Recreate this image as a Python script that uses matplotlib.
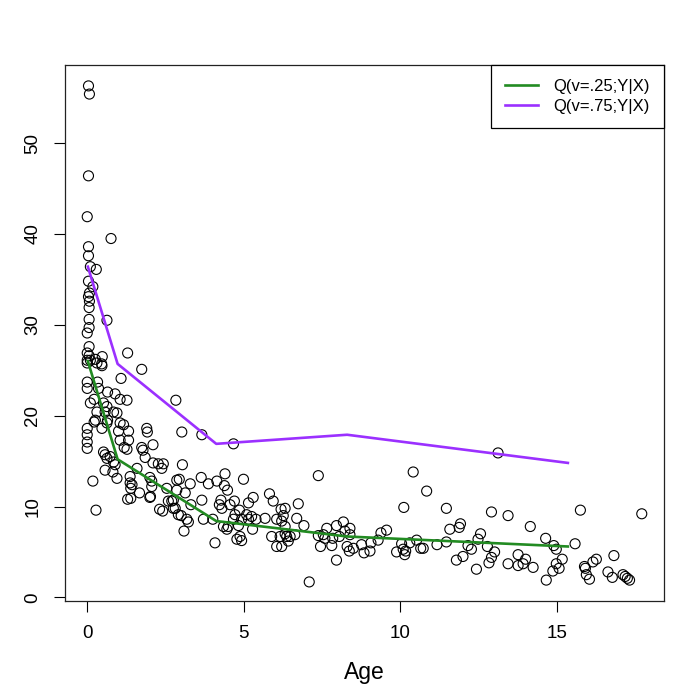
import numpy as np
import matplotlib
matplotlib.use("Agg")
import matplotlib.pyplot as plt

plt.rcParams['font.family'] = ['Liberation Sans', 'DejaVu Sans']

age = [0.04, 0.07, 0.04, 0.0, 0.04, 0.04, 0.1, 0.29, 0.04, 0.18, 0.07, 0.04, 0.07, 0.06,
       0.06, 0.06, 0.0, 0.63, 0.76, 0.06, 0.0, 0.06, 0.0, 0.1, 0.26, 0.48, 0.46, 1.29, 1.74,
       0.0, 0.31, 0.47, 1.08, 0.0, 0.0, 0.33, 0.36, 0.65, 0.89, 1.05, 1.27, 0.22, 0.1, 0.52,
       0.63, 0.31, 0.57, 0.84, 0.95, 0.26, 0.22, 0.65, 0.47, 0.63, 1.05, 1.16, 1.32, 0.0, 0.0,
       0.0, 0.0, 1.0, 1.05, 1.32, 1.18, 1.27, 1.9, 1.92, 2.1, 1.74, 1.78, 0.52, 0.57, 0.63,
       0.73, 0.84, 0.89, 1.85, 2.1, 2.27, 2.38, 2.43, 1.59, 0.57, 0.82, 0.95, 0.18, 1.37,
       1.43, 2.0, 2.06, 2.86, 1.37, 1.39, 1.67, 2.0, 2.02, 2.06, 1.29, 1.39, 2.54, 2.59, 2.31,
       2.41, 2.75, 2.81, 0.28, 2.91,
       2.83, 3.02, 3.66, 4.67, 3.04, 2.94, 2.86, 3.13, 3.29, 3.64, 3.87, 4.14, 4.4, 4.38, 4.48,
       4.99, 2.7, 2.75, 3.0, 3.18, 3.23, 3.09, 3.31, 3.66, 3.71, 4.01, 4.22, 4.27, 4.3, 4.56,
       4.7, 4.86, 4.72, 4.67, 4.35, 4.46, 4.5, 4.08, 4.78, 4.88, 4.93, 4.83, 4.93, 5.09, 5.15,
       5.25, 5.28, 5.3, 5.15, 5.39, 5.68, 5.82, 5.94, 6.05, 6.19, 6.32, 6.26, 6.32, 6.21, 5.89,
       6.16, 6.32, 6.37, 6.05, 6.21, 6.42, 6.63, 6.74, 6.69,
       13.12, 7.38, 10.41, 10.84, 10.11, 11.47, 12.91, 13.44, 15.75, 17.71, 14.15, 6.92,
       6.48, 7.09, 7.38, 7.45, 7.54, 7.65, 7.59, 7.81, 7.84, 7.96, 7.96, 8.05, 8.18, 8.23,
       8.39, 8.3, 8.37, 8.5, 8.39, 8.76, 8.84, 9.03, 9.06, 9.29, 9.38, 9.56, 9.88, 10.04,
       10.09, 10.14, 10.17, 10.3, 10.52, 10.65, 10.73, 11.17, 11.47, 11.58, 11.88, 11.92,
       11.79, 12.0, 12.16, 12.27, 12.43, 12.48, 12.56, 12.78, 12.83, 12.91, 13.01, 13.44,
       13.76, 13.76, 13.92, 14.0, 14.24, 14.64, 14.66, 14.9, 14.98, 14.87, 14.98, 15.07,
       15.17, 15.58, 15.88, 15.91, 15.94, 16.04, 16.15, 16.26, 16.82, 16.63, 16.77, 17.11,
       17.18, 17.25, 17.32]
value = [56.3, 55.4, 46.4, 41.9, 38.6, 37.6, 36.4, 36.1, 34.8, 34.2, 33.5, 33.1, 32.6, 31.9,
         30.6, 29.7, 29.1, 30.5, 39.5, 27.6, 26.9, 26.6, 26.1, 26.1, 26.2, 26.5, 25.7, 26.9, 25.1,
         25.8, 25.8, 25.5, 24.1, 23.7, 23.0, 23.7, 23.0, 22.6, 22.4, 21.8, 21.7, 21.8, 21.4, 21.4,
         21.0, 20.4, 20.4, 20.4, 20.3, 19.5, 19.3, 19.5, 18.6, 19.2, 19.2, 19.0, 18.3, 18.6, 17.9,
         17.1, 16.4, 18.3, 17.3, 17.3, 16.5, 16.3, 18.6, 18.2, 16.8, 16.5, 16.2, 16.0, 15.7, 15.3,
         15.5, 14.9, 14.6, 15.4, 14.8, 14.7, 14.2, 14.7, 14.2, 14.0, 13.8, 13.1, 12.8, 13.3,
         12.4, 13.2, 12.8, 12.9, 12.6, 12.0, 11.5, 11.0, 11.1, 12.2, 10.8, 10.9, 12.0, 10.6, 9.7,
         9.5, 10.7, 9.8, 9.6, 9.1,
         21.7, 18.2, 17.9, 16.9, 14.6, 13.0, 11.8, 11.5, 12.5, 13.2, 12.5, 12.8, 13.6, 12.3, 11.8,
         13.0, 10.6, 9.8, 9.0, 8.6, 8.3, 7.3, 10.2, 10.7, 8.6, 8.6, 10.2, 10.7, 9.8, 10.2,
         10.6, 9.6, 9.1, 8.6, 7.8, 7.5, 7.8, 6.0, 6.4, 6.7, 6.25, 7.9, 8.6, 9.1, 8.6,
         8.9, 7.5, 11.0, 10.4, 8.6, 8.7, 11.4, 10.6, 8.6, 9.7, 9.8, 9.0, 7.8, 8.4, 6.7,
         6.7, 7.0, 6.7, 5.6, 5.6, 6.2, 6.9, 10.3, 8.7,
         15.9, 13.4, 13.8, 11.7, 9.9, 9.8, 9.4, 9.0, 9.6, 9.2, 7.8, 7.9,
         6.7, 1.7, 6.8, 5.6, 6.9, 7.6, 6.5, 5.7, 6.5, 7.9, 4.1, 6.7, 8.3, 7.3,
         7.6, 5.6, 5.1, 5.4, 6.9, 5.8, 4.9, 5.1, 6.0, 6.3, 7.1, 7.4, 5.0, 5.9,
         5.3, 4.7, 5.1, 6.0, 6.3, 5.4, 5.4, 5.8, 6.1, 7.5, 7.7, 8.1,
         4.1, 4.5, 5.7, 5.3, 3.1, 6.4, 7.0, 5.6, 3.8, 4.4, 5.0, 3.7,
         4.7, 3.5, 3.7, 4.2, 3.3, 6.5, 1.9, 5.7, 5.3, 2.9, 3.7, 3.2,
         4.2, 5.9, 3.4, 3.2, 2.5, 2.0, 3.9, 4.2, 4.6, 2.8, 2.2, 2.5,
         2.3, 2.1, 1.9]

# fitted quantile curves
fit_age = [0.02, 0.97, 4.12, 8.3, 15.35]
q25 = [26.0, 15.2, 8.4, 6.7, 5.6]
q75 = [36.4, 25.7, 16.9, 17.9, 14.8]

fig = plt.figure(figsize=(6.88, 6.88), dpi=100)
ax = fig.add_axes([65 / 688, 87 / 688, 599 / 688, 536 / 688])

ax.scatter(age, value, s=52, facecolors='none', edgecolors='black', linewidths=0.8, zorder=2)
ax.plot(fit_age, q25, color='#228B22', lw=1.9, label='Q(v=.25;Y|X)', zorder=3)
ax.plot(fit_age, q75, color='#9B30FF', lw=1.9, label='Q(v=.75;Y|X)', zorder=3)

ax.set_xlim(-0.71, 18.42)
ax.set_ylim(-0.4, 58.6)
ax.set_xticks([0, 5, 10, 15])
ax.set_yticks([0, 10, 20, 30, 40, 50])
ax.tick_params(direction='out', length=8, width=0.8, labelsize=13.5, pad=9)
for lab in ax.get_yticklabels():
    lab.set_rotation(90)
    lab.set_va('center')
for sp in ax.spines.values():
    sp.set_linewidth(0.9)
    sp.set_color('#222222')
ax.set_xlabel('Age', fontsize=16.5, labelpad=14)

leg = ax.legend(loc='upper right', bbox_to_anchor=(1, 1), borderaxespad=0, fancybox=False,
                edgecolor='black', framealpha=1, fontsize=12.0, handlelength=2.0,
                handletextpad=0.9, borderpad=0.85, labelspacing=0.3)
leg.get_frame().set_linewidth(0.9)

fig.savefig('out.png', dpi=100)
